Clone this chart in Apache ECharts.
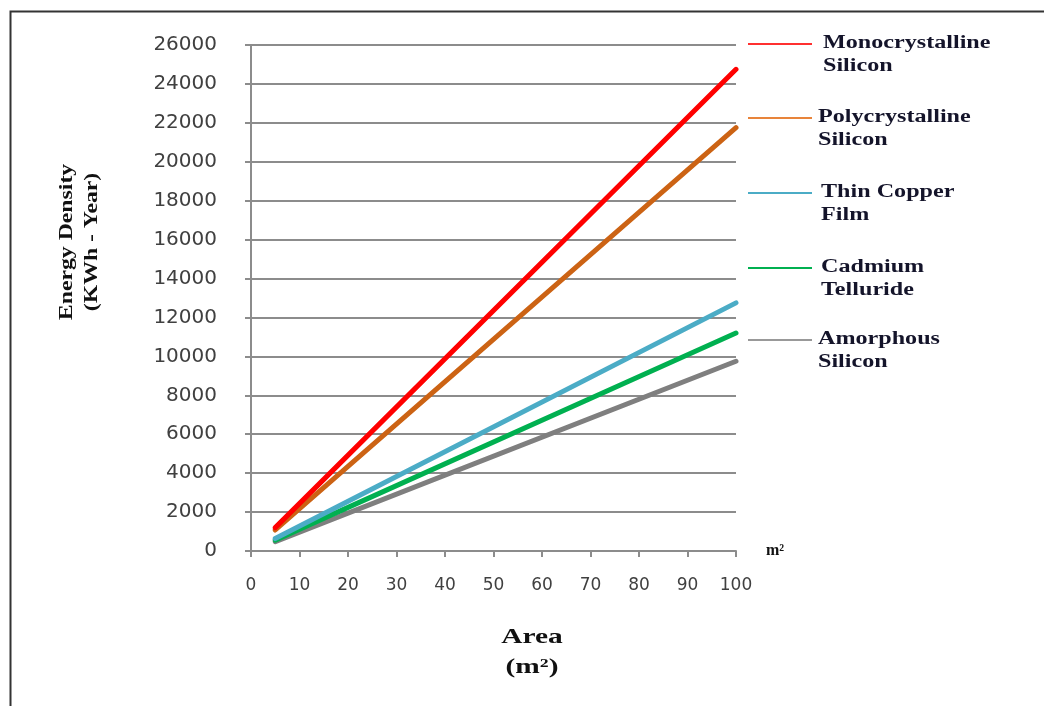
<!DOCTYPE html>
<html>
<head>
<meta charset="utf-8">
<script src="https://cdn.jsdelivr.net/npm/echarts@6/dist/echarts.min.js"></script>
<style>
html,body{margin:0;padding:0;background:#fff;}
#chart{width:1044px;height:706px;}
</style>
</head>
<body>
<div id="chart"></div>
<script>
// Data
const areas = [5, 100];
const seriesNames = ['Monocrystalline\nSilicon', 'Polycrystalline\nSilicon', 'Thin Copper\nFilm', 'Cadmium\nTelluride', 'Amorphous\nSilicon'];
const monoSi = [1200, 24750];
const polySi = [1080, 21750];
const thinCopper = [640, 12750];
const cdTe = [560, 11200];
const amorphSi = [480, 9750];
const xTicks = [0, 100, 10];
const yTicks = [0, 26000, 2000];

const lineColors = ['#ff0000', '#cc6314', '#4bacc6', '#00b050', '#7f7f7f'];
const legendColors = ['#ff3030', '#e8843a', '#4bacc6', '#00b050', '#999999'];
const allValues = [monoSi, polySi, thinCopper, cdTe, amorphSi];

const chart = echarts.init(document.getElementById('chart'));

const series = allValues.map((vals, i) => ({
  name: seriesNames[i],
  type: 'line',
  data: areas.map((a, j) => [a, vals[j]]),
  symbol: 'none',
  lineStyle: {color: lineColors[i], width: 5, cap: 'round'},
  itemStyle: {color: lineColors[i]},
  z: 10 - i
}));

// legend built as graphics (line aligned to first text line)
const legendTops = [44, 118, 193, 268, 340];
const legendTextX = [823, 818, 821, 821, 818];
const graphics = [
  {type: 'rect', left: 8, top: 9, shape: {x: 0, y: 0, width: 1100, height: 800},
   style: {fill: 'none', stroke: '#333', lineWidth: 2}, silent: true}
];
seriesNames.forEach((n, i) => {
  graphics.push({type: 'line', shape: {x1: 748, y1: legendTops[i], x2: 812, y2: legendTops[i]},
    style: {stroke: legendColors[i], lineWidth: 2}});
  graphics.push({type: 'text', x: legendTextX[i], y: legendTops[i], scaleX: 1.34,
    style: {text: n, font: 'bold 18px "Liberation Serif", serif', fill: '#14142a', lineHeight: 23,
      verticalAlign: 'top', y: -12}});
});
graphics.push({type: 'text', x: 80, y: 242, rotation: Math.PI / 2, scaleX: 1.25,
  style: {text: 'Energy Density\n(KWh - Year)', font: 'bold 19px "Liberation Serif", serif', fill: '#111',
    align: 'center', verticalAlign: 'middle', lineHeight: 25}});
graphics.push({type: 'text', x: 532, y: 653, scaleX: 1.4,
  style: {text: 'Area\n(m²)', font: 'bold 21px "Liberation Serif", serif', fill: '#111',
    align: 'center', verticalAlign: 'middle', lineHeight: 30}});

chart.setOption({
  animation: false,
  backgroundColor: '#fff',
  grid: {left: 251, right: 308, top: 45, bottom: 155, containLabel: false},
  xAxis: {
    type: 'value', min: xTicks[0], max: xTicks[1], interval: xTicks[2],
    name: 'm²', nameLocation: 'end', nameGap: 30,
    nameTextStyle: {fontFamily: 'Liberation Serif', fontWeight: 'bold', fontSize: 16, color: '#111', verticalAlign: 'middle'},
    axisLine: {show: true, onZero: false, lineStyle: {color: '#8c8c8c', width: 2}},
    axisTick: {show: true, length: 6, lineStyle: {color: '#8c8c8c', width: 2}},
    axisLabel: {margin: 26, fontFamily: 'DejaVu Sans', fontSize: 17, color: '#404040'},
    splitLine: {show: false}
  },
  yAxis: {
    type: 'value', min: yTicks[0], max: yTicks[1], interval: yTicks[2],
    axisLine: {show: true, lineStyle: {color: '#8c8c8c', width: 2}},
    axisTick: {show: true, length: 6, lineStyle: {color: '#8c8c8c', width: 2}},
    axisLabel: {margin: 34, fontFamily: 'DejaVu Sans', fontSize: 20, color: '#404040',
      formatter: v => String(v)},
    splitLine: {show: true, lineStyle: {color: '#8c8c8c', width: 2}}
  },
  graphic: graphics,
  series: series
});
</script>
</body>
</html>
